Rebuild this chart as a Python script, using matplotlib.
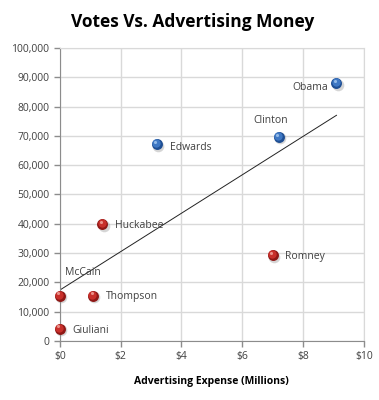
import numpy as np
import matplotlib.pyplot as plt
import matplotlib.transforms as mtransforms

# Candidates: advertising expense (millions $) vs votes
names = ['Obama', 'Clinton', 'Edwards', 'Huckabee', 'McCain', 'Thompson', 'Giuliani', 'Romney']
spend = [9.1, 7.2, 3.2, 1.4, 0.0, 1.1, 0.0, 7.0]
votes = [88000, 69700, 67100, 39800, 15500, 15500, 4200, 29400]
party = ['D', 'D', 'D', 'R', 'R', 'R', 'R', 'R']

x_ticks = [0, 2, 4, 6, 8, 10]
y_ticks = [0, 10000, 20000, 30000, 40000, 50000, 60000, 70000, 80000, 90000, 100000]

# label placement (offset in points, alignment)
label_pos = {
    'Obama': (-6, -3, 'right', 'center'),
    'Clinton': (-6, 8, 'center', 'bottom'),
    'Edwards': (9, -2, 'left', 'center'),
    'Huckabee': (9, -1, 'left', 'center'),
    'McCain': (4, 13, 'left', 'bottom'),
    'Thompson': (9, -1, 'left', 'center'),
    'Giuliani': (9, -1, 'left', 'center'),
    'Romney': (9, -1, 'left', 'center'),
}

colors = {'D': ('#1f4f94', '#3f78c4', '#a8cbf2'), 'R': ('#8f1816', '#c8302b', '#f4aaa2')}

plt.rcParams['font.family'] = ['Open Sans', 'DejaVu Sans']

fig = plt.figure(figsize=(3.79, 4.0), dpi=100)
ax = fig.add_axes([0.158, 0.1475, 0.802, 0.7325])

ax.set_xlim(0, 10)
ax.set_ylim(0, 100000)
ax.set_xticks(x_ticks)
ax.set_yticks(y_ticks)
ax.set_xticklabels(['$%d' % t for t in x_ticks])
ax.set_yticklabels(['{:,}'.format(t) for t in y_ticks])
ax.grid(True, color='#d9d9d9', linewidth=1)
ax.set_axisbelow(True)
ax.tick_params(labelsize=7.5, colors='#404040', length=4, width=1)
ax.tick_params(axis='both', color='#8c8c8c')
for side in ['top', 'right']:
    ax.spines[side].set_color('#d9d9d9')
for side in ['left', 'bottom']:
    ax.spines[side].set_color('#8c8c8c')

# trend line (linear fit)
coef = np.polyfit(spend, votes, 1)
xs = np.array([min(spend), max(spend)])
ax.plot(xs, np.polyval(coef, xs), color='#222222', linewidth=0.7, zorder=2)

shadow = mtransforms.offset_copy(ax.transData, fig=fig, x=0.8, y=-1.2, units='points')
mid_off = mtransforms.offset_copy(ax.transData, fig=fig, x=-0.6, y=0.7, units='points')
hilite = mtransforms.offset_copy(ax.transData, fig=fig, x=-1.3, y=1.6, units='points')

# points drawn as shaded balls
for n, x, y, p in zip(names, spend, votes, party):
    dark, mid, light = colors[p]
    ax.scatter([x], [y], s=70, color='#777777', alpha=0.3, zorder=3, clip_on=False,
               linewidths=0, transform=shadow)
    ax.scatter([x], [y], s=62, color=dark, zorder=4, clip_on=False, linewidths=0)
    ax.scatter([x], [y], s=36, color=mid, zorder=5, clip_on=False, linewidths=0,
               transform=mid_off)
    ax.scatter([x], [y], s=5, color=light, zorder=6, clip_on=False, linewidths=0,
               alpha=0.8, transform=hilite)
    dx, dy, ha, va = label_pos[n]
    ax.annotate(n, (x, y), xytext=(dx, dy), textcoords='offset points',
                ha=ha, va=va, fontsize=7.5, color='#404040', zorder=7)

fig.text(0.507, 0.945, 'Votes Vs. Advertising Money', ha='center', va='center',
         fontsize=12.5, fontweight='bold', color='black')
ax.set_xlabel('Advertising Expense (Millions)', fontsize=7.5, fontweight='bold',
              color='black', labelpad=10)

fig.savefig('out.png', dpi=100)
